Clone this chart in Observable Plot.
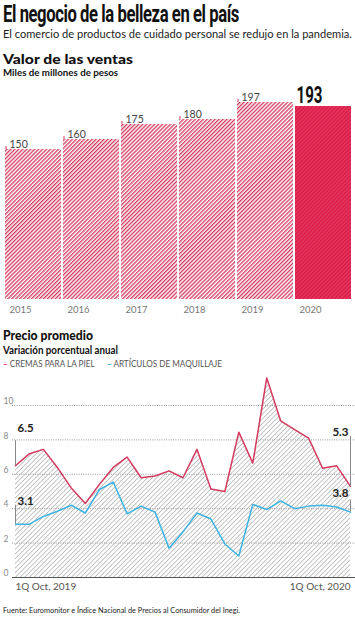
<!DOCTYPE html>
<html><head><meta charset="utf-8">
<script src="https://cdn.jsdelivr.net/npm/d3@7"></script>
<script src="https://cdn.jsdelivr.net/npm/@observablehq/plot@0.6"></script>
<style>
html,body{margin:0;padding:0;background:#fff}
body{width:355px;height:620px;position:relative;overflow:hidden;font-family:Lato,"Open Sans",sans-serif;color:#111}
.t{position:absolute;left:3px;white-space:nowrap;line-height:1;transform-origin:0 0;display:inline-block}
#title{top:5px;height:19px;line-height:19px;font-family:Roboto,sans-serif;font-weight:700;font-size:24px;letter-spacing:-0.6px;color:#111}
#sub{top:28.5px;height:9px;line-height:9px;font-size:11.5px;color:#222}
#h1{top:53px;height:12px;line-height:12px;font-size:14px;font-weight:900}
#h1s{top:68px;height:9px;line-height:9px;font-size:10px;font-weight:700}
#h2{top:329px;height:12px;line-height:12px;font-size:14px;font-weight:900}
#h2s{top:344.5px;height:10px;line-height:10px;font-size:10.5px;font-weight:700}
#legend{top:358.5px;height:9px;line-height:9px;font-size:9.5px;color:#555}
#legend .sw{font-weight:700}
#src{top:606px;height:8px;line-height:8px;font-size:8px;color:#222}
#bars,#lines{position:absolute;left:0}
#bars{top:80px}
#lines{top:368px}
</style></head>
<body>
<div id="title" class="t" data-w="236">El negocio de la belleza en el país</div>
<div id="sub" class="t" data-w="349">El comercio de productos de cuidado personal se redujo en la pandemia.</div>
<div id="h1" class="t" data-w="130">Valor de las ventas</div>
<div id="h1s" class="t" data-w="115">Miles de millones de pesos</div>
<div id="bars"></div>
<div id="h2" class="t" data-w="90">Precio promedio</div>
<div id="h2s" class="t" data-w="115">Variación porcentual anual</div>
<div id="legend" class="t" data-w="219"></div>
<div id="lines"></div>
<div id="src" class="t" data-w="237">Fuente: Euromonitor e Índice Nacional de Precios al Consumidor del Inegi.</div>
<script>
// ---- data ----
const years = ["2015", "2016", "2017", "2018", "2019", "2020"];
const sales = [150, 160, 175, 180, 197, 193];

const periods = [
  "1Q Oct, 2019", "2Q Oct, 2019", "1Q Nov, 2019", "2Q Nov, 2019", "1Q Dic, 2019", "2Q Dic, 2019",
  "1Q Ene, 2020", "2Q Ene, 2020", "1Q Feb, 2020", "2Q Feb, 2020", "1Q Mar, 2020", "2Q Mar, 2020",
  "1Q Abr, 2020", "2Q Abr, 2020", "1Q May, 2020", "2Q May, 2020", "1Q Jun, 2020", "2Q Jun, 2020",
  "1Q Jul, 2020", "2Q Jul, 2020", "1Q Ago, 2020", "2Q Ago, 2020", "1Q Sep, 2020", "2Q Sep, 2020",
  "1Q Oct, 2020"
];
const cremas = [6.5, 7.2, 7.45, 6.4, 5.2, 4.3, 5.4, 6.4, 7.0, 5.8, 5.9, 6.2, 5.8, 7.45, 5.15, 5.0, 8.45, 6.65, 11.6, 9.1, 8.6, 8.1, 6.35, 6.5, 5.3];
const maquillaje = [3.1, 3.1, 3.55, 3.85, 4.2, 3.75, 5.1, 5.55, 3.7, 4.15, 3.8, 1.7, 2.65, 3.75, 3.4, 1.95, 1.25, 4.25, 3.95, 4.45, 4.0, 4.15, 4.2, 4.1, 3.8];
const yTicks = [0, 2, 4, 6, 8, 10];
const seriesNames = ["CREMAS PARA LA PIEL", "ARTÍCULOS DE MAQUILLAJE"];

const RED = "#d43a5f", BLUE = "#3cb4e3", CRIMSON = "#dc1f4b";

// legend
document.getElementById("legend").innerHTML =
  `<span class="sw" style="color:${RED}">–</span> ${seriesNames[0]}&nbsp;&nbsp;&nbsp;&nbsp;&nbsp;&nbsp;<span class="sw" style="color:${BLUE}">–</span> ${seriesNames[1]}`;

function addDefs(svg, html) {
  const defs = document.createElementNS("http://www.w3.org/2000/svg", "defs");
  defs.innerHTML = html;
  svg.insertBefore(defs, svg.firstChild);
}

// ---- bar chart ----
const barData = years.map((y, i) => ({year: y, value: sales[i]}));
const past = barData.slice(0, -1), last = barData.slice(-1);
const bars = Plot.plot({
  width: 355, height: 240,
  marginLeft: 3, marginRight: 2, marginTop: 19, marginBottom: 21,
  style: {fontFamily: "Lato, sans-serif", background: "transparent"},
  x: {type: "band", domain: years, paddingInner: 0.03, paddingOuter: 0, axis: null},
  y: {domain: [0, 200], axis: null},
  marks: [
    Plot.barY(past, {x: "year", y: "value", fill: "url(#hatchRed)"}),
    Plot.barY(last, {x: "year", y: "value", fill: "url(#hatchSolid)"}),
    Plot.ruleX(past, {x: "year", y1: "value", y2: "value", insetBottom: 3, dx: -27.5, stroke: RED, strokeWidth: 1}),
    Plot.text(past, {x: "year", y: "value", text: d => String(d.value), dx: -24, dy: -5, textAnchor: "start", fontSize: 10.5, fill: "#444"}),
    Plot.text(last, {x: "year", y: "value", text: d => String(d.value), dx: -27, dy: -11, textAnchor: "start", fontSize: 23, fontWeight: 700, fill: "#111", fontFamily: "Roboto", ariaLabel: () => "total-last"}),
    Plot.text(barData, {x: "year", y: d => 0, text: "year", dx: -24, dy: 10, textAnchor: "start", fontSize: 9.5, fill: "#777"})
  ]
});
addDefs(bars, `
  <pattern id="hatchRed" patternUnits="userSpaceOnUse" width="2.8" height="2.8" patternTransform="rotate(45)">
    <rect width="2.8" height="2.8" fill="#fff"/><rect width="1.35" height="2.8" fill="${RED}"/>
  </pattern>
  <pattern id="hatchSolid" patternUnits="userSpaceOnUse" width="2.8" height="2.8" patternTransform="rotate(45)">
    <rect width="2.8" height="2.8" fill="${CRIMSON}"/><rect width="0.9" height="2.8" fill="#e43e66"/>
  </pattern>`);
bars.querySelectorAll('[aria-label="total-last"]').forEach(g => {
  const ts = g.tagName === "text" ? [g] : g.querySelectorAll("text");
  ts.forEach(t => { t.setAttribute("textLength", "26"); t.setAttribute("lengthAdjust", "spacingAndGlyphs"); });
});
document.getElementById("bars").appendChild(bars);

// ---- line chart ----
const lineData = periods.map((p, i) => ({i, period: p, cremas: cremas[i], maq: maquillaje[i]}));
const first = lineData.slice(0, 1), end = lineData.slice(-1);
const N = periods.length - 1;
const lines = Plot.plot({
  width: 355, height: 228,
  marginLeft: 12, marginRight: 0, marginTop: 37, marginBottom: 19,
  style: {fontFamily: "Lato, sans-serif", background: "transparent"},
  x: {domain: [0, N], range: [15, 350], axis: null},
  y: {domain: [0, 10], axis: null},
  marks: [
    Plot.areaY(lineData, {x: "i", y: "cremas", fill: "url(#hatchGray)"}),
    Plot.ruleY(yTicks.filter(d => d > 0), {stroke: "#9a9a9a", strokeDasharray: "1,1.3", strokeWidth: 1}),
    Plot.ruleY([0], {stroke: "#555", strokeWidth: 1}),
    Plot.text(yTicks, {y: d => d, text: d => String(d), frameAnchor: "left", dx: -9, dy: -4, textAnchor: "start", fontSize: 8.5, fill: "#888"}),
    Plot.line(lineData, {x: "i", y: "maq", stroke: BLUE, strokeWidth: 1.5}),
    Plot.line(lineData, {x: "i", y: "cremas", stroke: RED, strokeWidth: 1.5}),
    // callouts
    Plot.ruleX(first, {x: "i", y1: "cremas", y2: "cremas", insetBottom: 25, stroke: "#888"}),
    Plot.text(first, {x: "i", y: "cremas", text: d => d.cremas.toFixed(1), dx: 2, dy: -37, textAnchor: "start", fontSize: 11.5, fontWeight: 700, fill: "#222"}),
    Plot.ruleX(first, {x: "i", y1: "maq", y2: "maq", insetBottom: 19, stroke: "#888"}),
    Plot.text(first, {x: "i", y: "maq", text: d => d.maq.toFixed(1), dx: 2, dy: -23, textAnchor: "start", fontSize: 11.5, fontWeight: 700, fill: "#222"}),
    Plot.ruleX(end, {x: "i", y1: "cremas", y2: "cremas", insetBottom: 50, stroke: "#888"}),
    Plot.text(end, {x: "i", y: "cremas", text: d => d.cremas.toFixed(1), dx: -2, dy: -54, textAnchor: "end", fontSize: 11.5, fontWeight: 700, fill: "#222"}),
    Plot.ruleX(end, {x: "i", y1: "maq", y2: "maq", insetBottom: 12, stroke: "#888"}),
    Plot.text(end, {x: "i", y: "maq", text: d => d.maq.toFixed(1), dx: -2, dy: -19, textAnchor: "end", fontSize: 11.5, fontWeight: 700, fill: "#222"}),
    // x labels
    Plot.text(first, {x: "i", y: d => 0, text: "period", dy: 9, textAnchor: "start", fontSize: 10, fill: "#555"}),
    Plot.text(end, {x: "i", y: d => 0, text: "period", dy: 9, textAnchor: "end", fontSize: 10, fill: "#555"})
  ]
});
addDefs(lines, `
  <pattern id="hatchGray" patternUnits="userSpaceOnUse" width="3.3" height="3.3" patternTransform="rotate(45)">
    <rect width="3.3" height="3.3" fill="#fff"/><rect width="0.8" height="3.3" fill="#b8b8b8"/>
  </pattern>`);
document.getElementById("lines").appendChild(lines);

// fit text widths
document.querySelectorAll("[data-w]").forEach(el => {
  const w = el.getBoundingClientRect().width;
  const target = +el.dataset.w;
  if (w > 0) el.style.transform = `scaleX(${target / w})`;
});
</script>
</body></html>
